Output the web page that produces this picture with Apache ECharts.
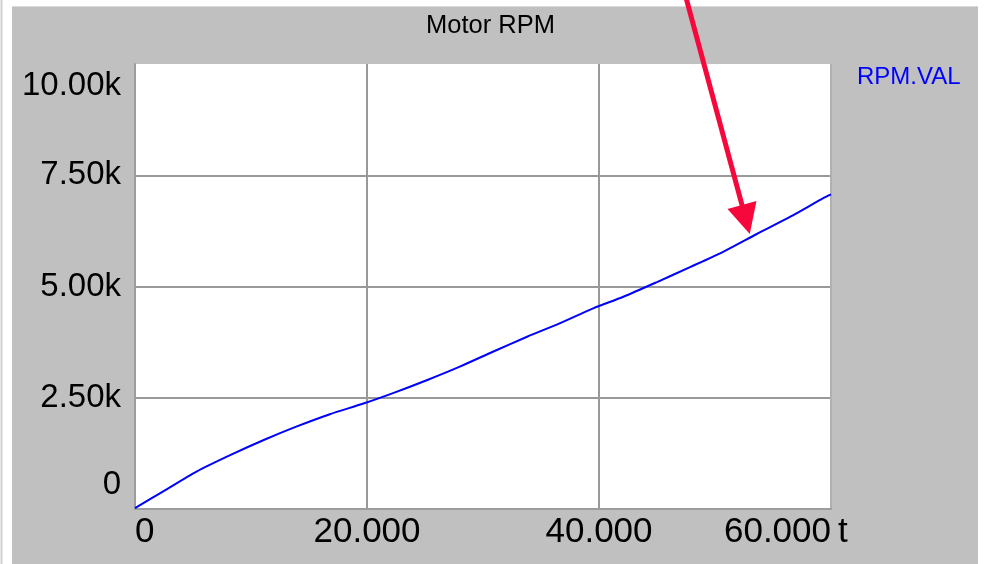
<!DOCTYPE html>
<html>
<head>
<meta charset="utf-8">
<title>Motor RPM</title>
<script src="https://cdn.jsdelivr.net/npm/echarts@6/dist/echarts.min.js"></script>
<style>
  html, body { margin: 0; padding: 0; background: #ffffff; }
  #chart { width: 987px; height: 564px; }
</style>
</head>
<body>
<div id="chart"></div>
<script>
// Motor speed trace: time t (s) against RPM.VAL
const timeValues = [0, 2.4, 5.3, 8.2, 11.1, 13.9, 16.8, 19.7, 22.3, 25.2, 28.0, 30.9,
  33.8, 36.6, 39.5, 42.1, 45.0, 47.8, 50.7, 53.6, 56.5, 59.3, 60];
const rpmValues = [20, 390, 840, 1210, 1550, 1850, 2130, 2370, 2610, 2900, 3200, 3540,
  3870, 4170, 4510, 4770, 5100, 5430, 5780, 6180, 6570, 6980, 7070];

const seriesName = 'RPM.VAL';
const chartTitle = 'Motor RPM';
const xAxisName = 't';

// Axis ranges and tick spacing
const xRange = [0, 60];
const xStep = 20;
const yRange = [0, 10000];
const yStep = 2500;

// Annotation arrow, given in data coordinates [t, rpm]: tail above the plot, head on the curve
const arrowTail = [47.44, 11550];
const arrowHead = [53.0, 6180];

const FONT = '"Liberation Sans", Arial, Helvetica, sans-serif';

const chart = echarts.init(document.getElementById('chart'), null, { renderer: 'canvas' });

function yLabel(v) {
  if (v === yRange[0]) return '{bot|0}';
  const s = (v / 1000).toFixed(2) + 'k';
  if (v === yRange[1]) return '{top|' + s + '}';
  return s;
}

function xLabel(v) {
  return v === 0 ? '0' : v.toFixed(3);
}

const option = {
  backgroundColor: '#ffffff',
  animation: false,
  title: {
    text: chartTitle,
    left: 426,
    top: 13,
    padding: 0,
    textStyle: { fontFamily: FONT, fontSize: 25.5, fontWeight: 'normal', color: '#000000' }
  },
  legend: {
    data: [seriesName],
    left: 852,
    top: 65,
    padding: 0,
    icon: 'none',
    itemWidth: 0,
    itemHeight: 24,
    selectedMode: false,
    textStyle: { fontFamily: FONT, fontSize: 24, color: '#0000ff' }
  },
  grid: {
    left: 135,
    top: 64,
    right: 156,
    bottom: 55,
    show: true,
    backgroundColor: '#ffffff',
    borderWidth: 0
  },
  xAxis: {
    type: 'value',
    min: xRange[0],
    max: xRange[1],
    interval: xStep,
    name: xAxisName,
    nameLocation: 'end',
    nameGap: 7,
    nameMoveOverlap: false,
    nameTextStyle: {
      fontFamily: FONT, fontSize: 35, color: '#000000',
      align: 'left', verticalAlign: 'top', lineHeight: 46
    },
    axisLine: { show: true, onZero: false, lineStyle: { color: '#9c9c9c', width: 2 } },
    axisTick: { show: false },
    axisLabel: {
      fontFamily: FONT, fontSize: 35, color: '#000000', margin: 6,
      formatter: xLabel,
      alignMinLabel: 'left',
      alignMaxLabel: 'right',
      showMinLabel: true,
      showMaxLabel: true,
      hideOverlap: false
    },
    splitLine: {
      show: true,
      showMinLine: false,
      lineStyle: { color: ['#999999', '#999999', '#b0b0b0'], width: 2 }
    }
  },
  yAxis: {
    type: 'value',
    min: yRange[0],
    max: yRange[1],
    interval: yStep,
    axisLine: { show: true, onZero: false, lineStyle: { color: '#9c9c9c', width: 2 } },
    axisTick: { show: false },
    axisLabel: {
      fontFamily: FONT, fontSize: 33, color: '#000000', margin: 14,
      formatter: yLabel,
      showMinLabel: true,
      showMaxLabel: true,
      hideOverlap: false,
      rich: {
        top: { fontFamily: FONT, fontSize: 33, color: '#000000', padding: [44, 0, 0, 0] },
        bot: { fontFamily: FONT, fontSize: 33, color: '#000000', padding: [0, 0, 48, 0] }
      }
    },
    splitLine: {
      show: true,
      showMinLine: false,
      showMaxLine: false,
      lineStyle: { color: '#999999', width: 2 }
    }
  },
  series: [{
    name: seriesName,
    type: 'line',
    data: timeValues.map((t, i) => [t, rpmValues[i]]),
    showSymbol: false,
    symbol: 'none',
    smooth: 0.25,
    clip: true,
    lineStyle: { color: '#0000ff', width: 2 },
    itemStyle: { color: '#0000ff' },
    z: 5
  }]
};

chart.setOption(option);

// Panel frame, and the red arrow placed through the axis scales
function buildGraphics() {
  const tail = chart.convertToPixel({ gridIndex: 0 }, arrowTail);
  const head = chart.convertToPixel({ gridIndex: 0 }, arrowHead);
  const dx = head[0] - tail[0];
  const dy = head[1] - tail[1];
  const len = Math.sqrt(dx * dx + dy * dy);
  const ux = dx / len, uy = dy / len;
  const headLen = 30, halfW = 15;
  const bx = head[0] - ux * headLen, by = head[1] - uy * headLen;
  const nx = -uy, ny = ux;

  chart.setOption({
    graphic: [
      {
        type: 'rect', z: -100, silent: true,
        shape: { x: 12, y: 6, width: 966, height: 558 },
        style: { fill: '#c0c0c0' }
      },
      {
        type: 'line', z: -99, silent: true,
        shape: { x1: 12, y1: 6.5, x2: 978, y2: 6.5 },
        style: { stroke: '#d8d8d8', lineWidth: 1 }
      },
      {
        type: 'line', z: -99, silent: true,
        shape: { x1: 1.5, y1: 0, x2: 1.5, y2: 564 },
        style: { stroke: '#d0d0d0', lineWidth: 2 }
      },
      {
        type: 'line', z: 50, silent: true,
        shape: { x1: tail[0], y1: tail[1], x2: bx + ux * 2, y2: by + uy * 2 },
        style: { stroke: '#f7083c', lineWidth: 5 }
      },
      {
        type: 'polygon', z: 50, silent: true,
        shape: { points: [[head[0], head[1]], [bx + nx * halfW, by + ny * halfW], [bx - nx * halfW, by - ny * halfW]] },
        style: { fill: '#f7083c' }
      }
    ]
  });
}

buildGraphics();
</script>
</body>
</html>
